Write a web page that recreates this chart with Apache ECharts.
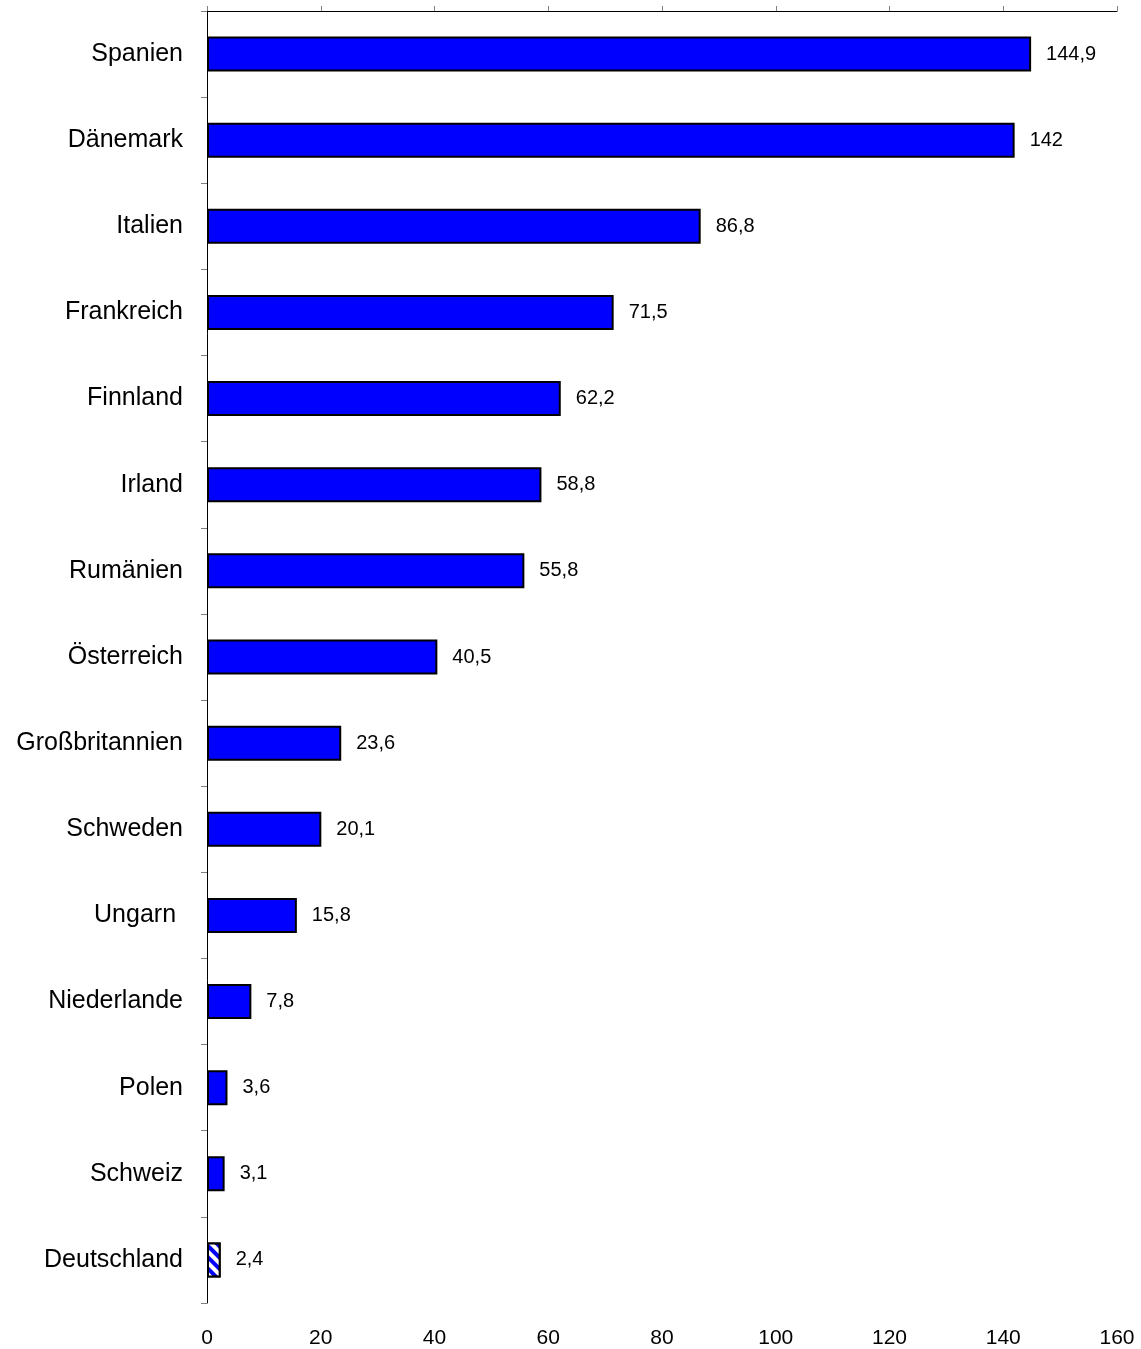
<!DOCTYPE html>
<html><head><meta charset="utf-8">
<script src="https://cdn.jsdelivr.net/npm/echarts@6/dist/echarts.min.js"></script>
<style>html,body{margin:0;padding:0;background:#fff}#c{width:1141px;height:1349px}</style>
</head><body><div id="c"></div>
<script>
const categories = ["Spanien","Dänemark","Italien","Frankreich","Finnland","Irland","Rumänien","Österreich","Großbritannien","Schweden","Ungarn ","Niederlande","Polen","Schweiz","Deutschland"];
const values = [144.9,142,86.8,71.5,62.2,58.8,55.8,40.5,23.6,20.1,15.8,7.8,3.6,3.1,2.4];
const xTicks = [0,20,40,60,80,100,120,140,160];
const hatched = ["Deutschland"];

const chart = echarts.init(document.getElementById('c'), null, {renderer:'canvas'});
const font = 'Liberation Sans, Arial, sans-serif';
const data = values.map((v,i)=>{
  const d = {value:v};
  if (hatched.includes(categories[i])) {
    d.itemStyle = {color:'#0000ff', decal:{color:'#ffffff', symbol:'rect', dashArrayX:[1,0], dashArrayY:[4,4], rotation:Math.PI/4}};
  }
  return d;
});
chart.setOption({
  animation:false,
  grid:{left:207,right:24,top:11,bottom:46,containLabel:false},
  xAxis:[{
    type:'value', position:'top', min:xTicks[0], max:xTicks[xTicks.length-1], interval:20,
    axisLine:{show:true,lineStyle:{color:'#000',width:1}},
    axisTick:{show:true,inside:false,length:5,lineStyle:{color:'#808080'}},
    axisLabel:{show:false}, splitLine:{show:false}
  },{
    type:'value', position:'bottom', min:xTicks[0], max:xTicks[xTicks.length-1], interval:20,
    axisLine:{show:false}, axisTick:{show:false}, splitLine:{show:false},
    axisLabel:{show:true,margin:25,fontSize:21,color:'#000',fontFamily:font}
  }],
  yAxis:{
    type:'category', data:categories, inverse:true,
    axisLine:{show:true,lineStyle:{color:'#000',width:1}},
    axisTick:{show:true,length:6,lineStyle:{color:'#808080'}},
    axisLabel:{margin:24,fontSize:25,color:'#000',fontFamily:font}
  },
  series:[{
    type:'bar', xAxisIndex:0, data:data, barWidth:35,
    itemStyle:{color:'#0000ff',borderColor:'#000',borderWidth:2},
    label:{show:true,position:'right',distance:15,fontSize:20,color:'#000',fontFamily:font,
      formatter:p=>String(p.value).replace('.',',')}
  }]
});
</script></body></html>
